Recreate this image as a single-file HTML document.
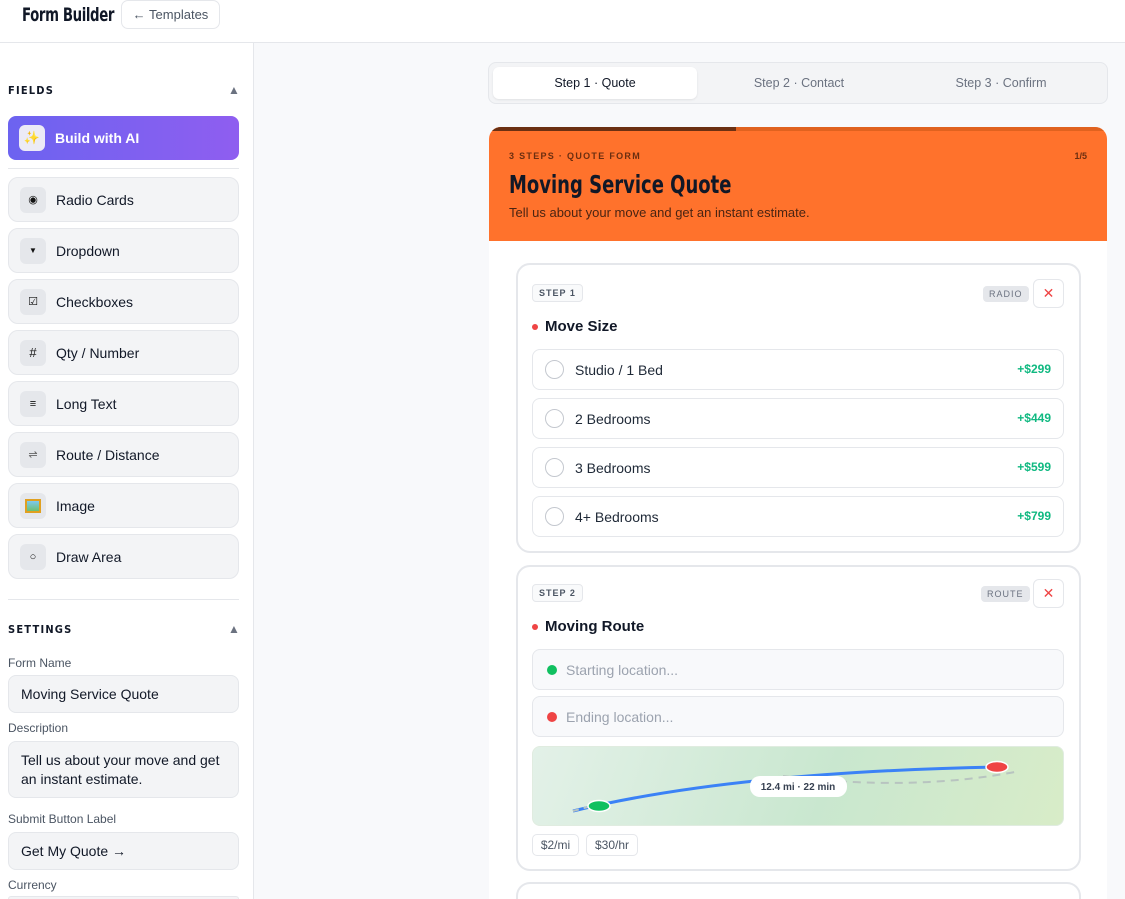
<!DOCTYPE html>
<html><head><meta charset="utf-8"><style>
*{box-sizing:border-box;margin:0;padding:0}
html{width:1125px;height:899px;overflow:hidden}
body{width:1125px;height:899px;overflow:hidden;font-family:"Liberation Sans","DejaVu Sans",sans-serif;background:#f8f9fb;position:relative;color:#111827}
.a{position:absolute}
.cond{font-family:"DejaVu Sans Condensed","Liberation Sans Narrow","Liberation Sans",sans-serif;font-weight:700}
.item{position:absolute;left:8px;width:231px;height:45px;background:#f3f4f6;border:1px solid #e5e7eb;border-radius:10px;font-size:14px}
.item .ic{position:absolute;left:11px;top:9px;width:26px;height:26px;border-radius:6px;background:#e5e7eb;text-align:center;line-height:26px;font-size:11px;color:#111}
.item .t{position:absolute;left:47px;top:14px}
.lab{position:absolute;left:8px;font-size:12px;color:#4b5563}
.inp{position:absolute;left:8px;width:231px;background:#f3f4f6;border:1px solid #e5e7eb;border-radius:8px;font-size:14px;padding:0 12px}
.opt{position:absolute;left:532px;width:532px;height:41px;border:1px solid #e5e7eb;border-radius:8px;background:#fff;font-size:14px}
.opt .r{position:absolute;left:12px;top:10px;width:19px;height:19px;border:1.5px solid #c4c8cf;border-radius:50%}
.opt .t{position:absolute;left:42px;top:12px;color:#1f2937}
.opt .p{position:absolute;right:12px;top:12px;color:#10b981;font-weight:700;font-size:12px}
.badge{position:absolute;font-size:9px;font-weight:700;letter-spacing:1px;color:#4b5563;border:1px solid #e5e7eb;border-radius:4px;background:#f9fafb;padding:3px 6px}
.tag{position:absolute;font-size:9px;letter-spacing:1px;color:#6b7280;border-radius:4px;background:#e5e7eb;padding:3px 6px}
.x{position:absolute;width:31px;height:29px;border:1px solid #e5e7eb;border-radius:6px;color:#ef4444;text-align:center;line-height:27px;font-size:14px;background:#fff}
.step{position:absolute;left:516px;width:565px;background:#fff;border:2px solid #e5e7eb;border-radius:14px}
.rin{position:absolute;left:532px;width:532px;height:41px;background:#f8f9fb;border:1px solid #e5e7eb;border-radius:8px;font-size:14px;color:#9ca3af}
.rin .d{position:absolute;left:14px;top:15px;width:10px;height:10px;border-radius:50%}
.rin span{position:absolute;left:33px;top:12px}
</style></head><body>
<div class="a" style="left:0;top:0;width:1125px;height:43px;background:#fff;border-bottom:1px solid #e5e7eb"></div>
<div class="a cond" style="left:22px;top:4px;font-size:19px;letter-spacing:-0.5px;transform:scaleX(.78);transform-origin:left;white-space:nowrap">Form Builder</div>
<div class="a" style="left:121px;top:0;width:99px;height:29px;border:1px solid #e5e7eb;border-radius:7px;background:#fff;font-size:13px;color:#4b5563;line-height:27px;text-align:center">← Templates</div>
<div class="a" style="left:0;top:43px;width:254px;height:856px;background:#fff;border-right:1px solid #e5e7eb;overflow:hidden">
</div>
<div class="a cond" style="left:8px;top:84px;font-size:11px;letter-spacing:1.2px">FIELDS</div>
<div class="a" style="left:228px;top:83px;font-size:12px;color:#6b7280">▲</div>
<div class="a" style="left:8px;top:116px;width:231px;height:44px;border-radius:8px;background:linear-gradient(90deg,#6c63f0,#8f5ef0)"></div>
<div class="a" style="left:19px;top:125px;width:26px;height:26px;border-radius:6px;background:#ecebf6;text-align:center;line-height:26px;font-size:13px;color:#f5c542">✨</div>
<div class="a" style="left:55px;top:130px;font-size:14px;font-weight:700;color:#fff">Build with AI</div>
<div class="a" style="left:8px;top:168px;width:231px;height:1px;background:#e5e7eb"></div>
<div class="item" style="top:177px"><div class="ic">◉</div><div class="t">Radio Cards</div></div>
<div class="item" style="top:228px"><div class="ic" style="font-size:8px">▼</div><div class="t">Dropdown</div></div>
<div class="item" style="top:279px"><div class="ic">☑</div><div class="t">Checkboxes</div></div>
<div class="item" style="top:330px"><div class="ic" style="font-size:13px">#</div><div class="t">Qty / Number</div></div>
<div class="item" style="top:381px"><div class="ic">≡</div><div class="t">Long Text</div></div>
<div class="item" style="top:432px"><div class="ic" style="color:#666">⇌</div><div class="t">Route / Distance</div></div>
<div class="item" style="top:483px"><div class="ic"><span style="display:inline-block;width:16px;height:14px;margin-top:6px;background:linear-gradient(#7ec8f0,#6cc070);border:2px solid #e0a020"></span></div><div class="t">Image</div></div>
<div class="item" style="top:534px"><div class="ic">○</div><div class="t">Draw Area</div></div>
<div class="a" style="left:8px;top:599px;width:231px;height:1px;background:#e5e7eb"></div>
<div class="a cond" style="left:8px;top:623px;font-size:11px;letter-spacing:1.2px">SETTINGS</div>
<div class="a" style="left:228px;top:622px;font-size:12px;color:#6b7280">▲</div>
<div class="lab" style="top:656px">Form Name</div>
<div class="inp" style="top:675px;height:38px;line-height:36px">Moving Service Quote</div>
<div class="lab" style="top:721px">Description</div>
<div class="inp" style="top:741px;height:57px;padding-top:9px;line-height:19px">Tell us about your move and get an instant estimate.</div>
<div class="lab" style="top:812px">Submit Button Label</div>
<div class="inp" style="top:832px;height:38px;line-height:36px">Get My Quote →</div>
<div class="lab" style="top:878px">Currency</div>
<div class="inp" style="top:896px;height:3px;border-bottom:none;border-radius:8px 8px 0 0"></div>
<div class="a" style="left:488px;top:62px;width:620px;height:42px;background:#f3f4f6;border:1px solid #e5e7eb;border-radius:8px"></div>
<div class="a" style="left:493px;top:67px;width:204px;height:32px;background:#fff;border-radius:6px;box-shadow:0 1px 2px rgba(0,0,0,.08);font-size:12.5px;text-align:center;line-height:32px">Step 1 · Quote</div>
<div class="a" style="left:697px;top:67px;width:204px;height:32px;font-size:12.5px;text-align:center;line-height:32px;color:#6b7280">Step 2 · Contact</div>
<div class="a" style="left:901px;top:67px;width:200px;height:32px;font-size:12.5px;text-align:center;line-height:32px;color:#6b7280">Step 3 · Confirm</div>
<div class="a" style="left:489px;top:127px;width:618px;height:772px;background:#fff;border-radius:12px 12px 0 0;overflow:hidden">
 <div class="a" style="left:0;top:0;width:618px;height:114px;background:#ff722c"></div>
 <div class="a" style="left:0;top:0;width:618px;height:4px;background:#e0621f"></div>
 <div class="a" style="left:0;top:0;width:247px;height:4px;background:#6b3012"></div>
 <div class="a" style="left:20px;top:24px;font-size:9px;font-weight:700;letter-spacing:1.3px;color:#6b2e10">3 STEPS · QUOTE FORM</div>
 <div class="a" style="right:20px;top:24px;font-size:9px;font-weight:700;color:#6b2e10">1/5</div>
 <div class="a cond" style="left:20px;top:43px;font-size:25px;color:#111827;transform:scaleX(.8);transform-origin:left;white-space:nowrap">Moving Service Quote</div>
 <div class="a" style="left:20px;top:78px;font-size:13px;color:#4a2412">Tell us about your move and get an instant estimate.</div>
</div>
<div class="step" style="top:263px;height:290px"></div>
<div class="badge" style="left:532px;top:284px">STEP 1</div>
<div class="tag" style="left:983px;top:286px">RADIO</div>
<div class="x" style="left:1033px;top:279px">✕</div>
<div class="a" style="left:532px;top:324px;width:6px;height:6px;border-radius:50%;background:#ef4444"></div>
<div class="a" style="left:545px;top:318px;font-size:15px;font-weight:700">Move Size</div>
<div class="opt" style="top:349px"><div class="r"></div><div class="t">Studio / 1 Bed</div><div class="p">+$299</div></div>
<div class="opt" style="top:398px"><div class="r"></div><div class="t">2 Bedrooms</div><div class="p">+$449</div></div>
<div class="opt" style="top:447px"><div class="r"></div><div class="t">3 Bedrooms</div><div class="p">+$599</div></div>
<div class="opt" style="top:496px"><div class="r"></div><div class="t">4+ Bedrooms</div><div class="p">+$799</div></div>
<div class="step" style="top:565px;height:306px"></div>
<div class="badge" style="left:532px;top:584px">STEP 2</div>
<div class="tag" style="left:981px;top:586px">ROUTE</div>
<div class="x" style="left:1033px;top:579px">✕</div>
<div class="a" style="left:532px;top:624px;width:6px;height:6px;border-radius:50%;background:#ef4444"></div>
<div class="a" style="left:545px;top:618px;font-size:15px;font-weight:700">Moving Route</div>
<div class="rin" style="top:649px"><div class="d" style="background:#10c060"></div><span>Starting location...</span></div>
<div class="rin" style="top:696px"><div class="d" style="background:#ef4444"></div><span>Ending location...</span></div>
<div class="a" style="left:532px;top:746px;width:532px;height:80px;border-radius:8px;border:1px solid #e0ece0;background:linear-gradient(110deg,#e3f1e8 0%,#c9e7cf 55%,#d8ecc8 100%);overflow:hidden">
<svg width="532" height="80" style="position:absolute;left:0;top:0">
<path d="M40 64 Q200 25 465 20" stroke="#3b82f6" stroke-width="3" fill="none"/>
<path d="M40 64 L66 57" stroke="#b8c4c0" stroke-width="2" stroke-dasharray="6 5" fill="none"/>
<path d="M250 29 Q380 45 487 24" stroke="#b8c4c0" stroke-width="2" stroke-dasharray="8 6" fill="none"/>
<ellipse cx="66" cy="59" rx="11" ry="5.5" fill="#10c060" stroke="#fff" stroke-width="1.5"/>
<ellipse cx="464" cy="20" rx="11" ry="5.5" fill="#ef4444" stroke="#fff" stroke-width="1.5"/>
<rect x="217" y="29" width="97" height="21" rx="10" fill="#fff"/>
<text x="265" y="43" font-size="10" font-weight="700" text-anchor="middle" fill="#374151" font-family="Liberation Sans">12.4 mi · 22 min</text>
</svg></div>
<div class="a" style="left:532px;top:834px;width:47px;height:22px;border:1px solid #e5e7eb;border-radius:5px;font-size:12px;color:#4b5563;text-align:center;line-height:20px">$2/mi</div>
<div class="a" style="left:586px;top:834px;width:52px;height:22px;border:1px solid #e5e7eb;border-radius:5px;font-size:12px;color:#4b5563;text-align:center;line-height:20px">$30/hr</div>
<div class="step" style="top:882px;height:17px;border-bottom:none;border-radius:14px 14px 0 0"></div>
</body></html>
